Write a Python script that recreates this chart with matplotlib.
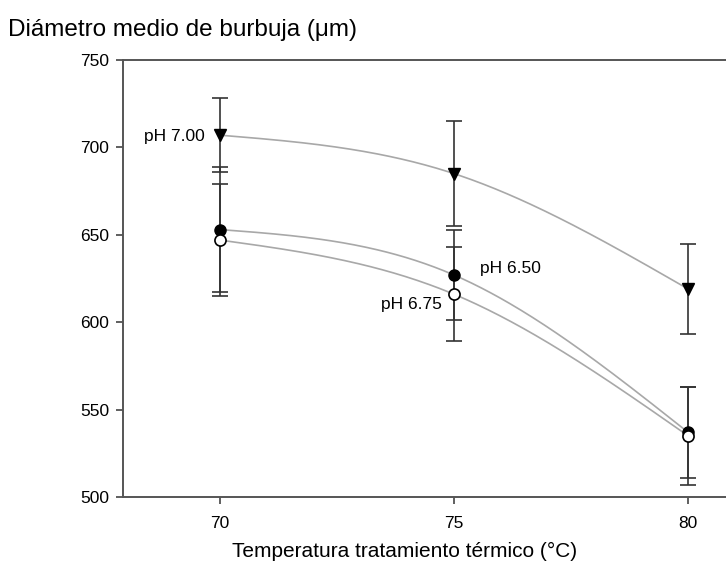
import numpy as np
import matplotlib
matplotlib.use("Agg")
import matplotlib.pyplot as plt

plt.rcParams['font.family'] = ['Liberation Sans', 'DejaVu Sans']

temps = [70, 75, 80]
ph700 = [707, 685, 619]
ph700_err = [21, 30, 26]
ph650 = [653, 627, 537]
ph650_err = [36, 26, 26]
ph675 = [647, 616, 535]
ph675_err = [32, 27, 28]
xticks = [70, 75, 80]
yticks = [500, 550, 600, 650, 700, 750]


def natural_spline(x, y, n=200):
    x = np.asarray(x, float); y = np.asarray(y, float)
    k = len(x)
    h = np.diff(x)
    A = np.zeros((k, k)); b = np.zeros(k)
    A[0, 0] = 1; A[-1, -1] = 1
    for i in range(1, k - 1):
        A[i, i - 1] = h[i - 1]; A[i, i] = 2 * (h[i - 1] + h[i]); A[i, i + 1] = h[i]
        b[i] = 6 * ((y[i + 1] - y[i]) / h[i] - (y[i] - y[i - 1]) / h[i - 1])
    M = np.linalg.solve(A, b)
    xs = np.linspace(x[0], x[-1], n)
    ys = np.empty_like(xs)
    for j, t in enumerate(xs):
        i = min(np.searchsorted(x, t, side='right') - 1, k - 2)
        a = x[i + 1] - t; c = t - x[i]
        ys[j] = (M[i] * a**3 + M[i + 1] * c**3) / (6 * h[i]) + \
            (y[i] / h[i] - M[i] * h[i] / 6) * a + (y[i + 1] / h[i] - M[i + 1] * h[i] / 6) * c
    return xs, ys


fig = plt.figure(figsize=(7.26, 5.77), dpi=100)
ax = fig.add_axes([123 / 726, 1 - 497 / 577, 1 - 123 / 726, (497 - 60) / 577])

for vals in (ph700, ph650, ph675):
    xs, ys = natural_spline(temps, vals)
    ax.plot(xs, ys, color='#a8a8a8', lw=1.2, zorder=1)

ekw = dict(ecolor='#333333', elinewidth=1.2, capsize=5.5, capthick=1.2, ls='none', zorder=2)
ax.errorbar(temps, ph700, yerr=ph700_err, **ekw)
ax.errorbar(temps, ph650, yerr=ph650_err, **ekw)
ax.errorbar(temps, ph675, yerr=ph675_err, **ekw)
ax.plot(temps, ph700, 'v', color='black', ms=8, ls='none', zorder=3)
ax.plot(temps, ph650, 'o', color='black', ms=8, ls='none', zorder=3)
ax.plot(temps, ph675, 'o', mfc='white', mec='black', mew=1.2, ms=8, ls='none', zorder=4)

ax.text(69.68, 706, 'pH 7.00', ha='right', va='center', fontsize=12.5)
ax.text(75.55, 631, 'pH 6.50', ha='left', va='center', fontsize=12.5)
ax.text(74.74, 610, 'pH 6.75', ha='right', va='center', fontsize=12.5)

ax.set_xlim(67.93, 80.81)
ax.set_ylim(500, 750)
ax.set_xticks(xticks)
ax.set_yticks(yticks)
ax.tick_params(axis='both', direction='out', labelsize=12.5, color='#444444', length=5, width=1.2)
ax.tick_params(axis='x', pad=9)
ax.tick_params(axis='y', pad=5)
for s in ('left', 'top', 'bottom'):
    ax.spines[s].set_color('#555555')
    ax.spines[s].set_linewidth(1.4)
ax.spines['right'].set_visible(False)

fig.text(8 / 726, 1 - 30 / 577, 'Diámetro medio de burbuja (μm)', ha='left', va='center', fontsize=17.5)
fig.text(405 / 726, 1 - 551 / 577, 'Temperatura tratamiento térmico (°C)', ha='center', va='center', fontsize=15)

fig.savefig('out.png', dpi=100)
